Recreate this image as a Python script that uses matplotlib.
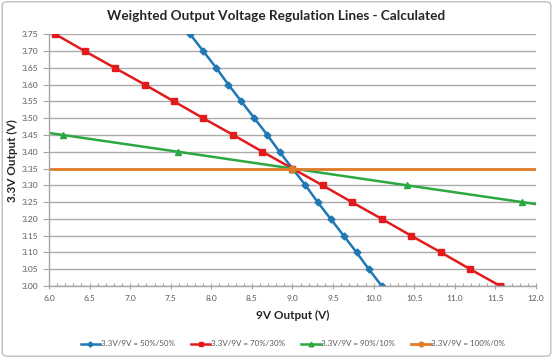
import matplotlib
matplotlib.use('Agg')
import matplotlib.pyplot as plt
from matplotlib.patches import FancyBboxPatch
from matplotlib.ticker import MultipleLocator

# 3.3V output levels (shared by every series)
v33 = [3.75, 3.70, 3.65, 3.60, 3.55, 3.50, 3.45, 3.40,
       3.35, 3.30, 3.25, 3.20, 3.15, 3.10, 3.05, 3.00]

# 9V output for each weighting
v9_50 = [7.74, 7.90, 8.06, 8.21, 8.37, 8.53, 8.69, 8.84,
         9.00, 9.16, 9.31, 9.47, 9.63, 9.79, 9.94, 10.10]
v9_70 = [6.08, 6.44, 6.81, 7.18, 7.54, 7.90, 8.27, 8.63,
         9.00, 9.37, 9.73, 10.10, 10.46, 10.83, 11.19, 11.56]
v9_90 = [-2.30, -0.88, 0.53, 1.94, 3.35, 4.76, 6.17, 7.59,
         9.00, 10.41, 11.83, 13.24, 14.65, 16.06, 17.47, 18.89]

# 100%/0% only regulates the 3.3V rail
v9_100 = [4.0, 9.0, 14.0]
v33_100 = [3.35, 3.35, 3.35]

labels = ['3.3V/9V = 50%/50%', '3.3V/9V = 70%/30%',
          '3.3V/9V = 90%/10%', '3.3V/9V = 100%/0%']

fig = plt.figure(figsize=(5.53, 3.58), dpi=100)
fig.patch.set_facecolor('white')
ax = fig.add_axes([49/553, 1 - 286/358, (536 - 49)/553, (286 - 34.3)/358])

border = FancyBboxPatch((0.004, 0.005), 0.992, 0.99, boxstyle='round,pad=0,rounding_size=0.01',
                        transform=fig.transFigure, facecolor='none', edgecolor='#BFBFBF',
                        linewidth=1.0, zorder=0)
fig.patches.append(border)

ax.plot(v9_50, v33, color='#1F77B4', linewidth=1.8, marker='D', markersize=3.5, label=labels[0])
ax.plot(v9_70, v33, color='#E31A1C', linewidth=1.8, marker='s', markersize=4, label=labels[1])
ax.plot(v9_90, v33, color='#2CA840', linewidth=1.8, marker='^', markersize=4.5, label=labels[2])
ax.plot(v9_100, v33_100, color='#E07B28', linewidth=2.0, marker='o', markersize=4.5, label=labels[3])

ax.set_xlim(6.0, 12.0)
ax.set_ylim(3.0, 3.75)
ax.xaxis.set_major_locator(MultipleLocator(0.5))
ax.xaxis.set_minor_locator(MultipleLocator(0.1))
ax.yaxis.set_major_locator(MultipleLocator(0.05))
ax.xaxis.set_major_formatter(lambda v, p: f'{v:.1f}')
ax.yaxis.set_major_formatter(lambda v, p: f'{v:.2f}')

ax.grid(axis='y', color='#ABABAB', linewidth=1.0)
ax.set_axisbelow(True)
for side in ['top', 'right']:
    ax.spines[side].set_visible(False)
for side in ['left', 'bottom']:
    ax.spines[side].set_color('#A6A6A6')
    ax.spines[side].set_linewidth(1.0)

ax.tick_params(axis='both', which='major', labelsize=6, colors='#A6A6A6', labelcolor='#595959', length=4, width=0.8)
ax.tick_params(axis='x', which='major', direction='inout', length=5, pad=4)
ax.tick_params(axis='x', which='minor', direction='in', length=2.5, width=0.8, colors='#A6A6A6')

font = ['Lato', 'DejaVu Sans']
for lab in ax.get_xticklabels() + ax.get_yticklabels():
    lab.set_family(font)

fig.text(0.5, 1 - 16/358, 'Weighted Output Voltage Regulation Lines - Calculated',
         ha='center', va='center', fontsize=9.8, fontweight='bold', family=font, color='#262626')
ax.set_xlabel('9V Output (V)', fontsize=8.5, fontweight='bold', family=font, color='#262626')
ax.set_ylabel('3.3V Output (V)', fontsize=8.5, fontweight='bold', family=font, color='#262626')
ax.xaxis.set_label_coords(0.5, -0.095)
ax.yaxis.set_label_coords(-0.064, 0.5)

leg = fig.legend(loc='center', bbox_to_anchor=(0.53, 1 - 344/358), ncol=4, frameon=False,
                 prop={'family': font, 'size': 5.8}, handlelength=2.4, handletextpad=0.1,
                 columnspacing=2.0, labelcolor='#595959', markerscale=0.75)

fig.savefig('out.png', dpi=100)
